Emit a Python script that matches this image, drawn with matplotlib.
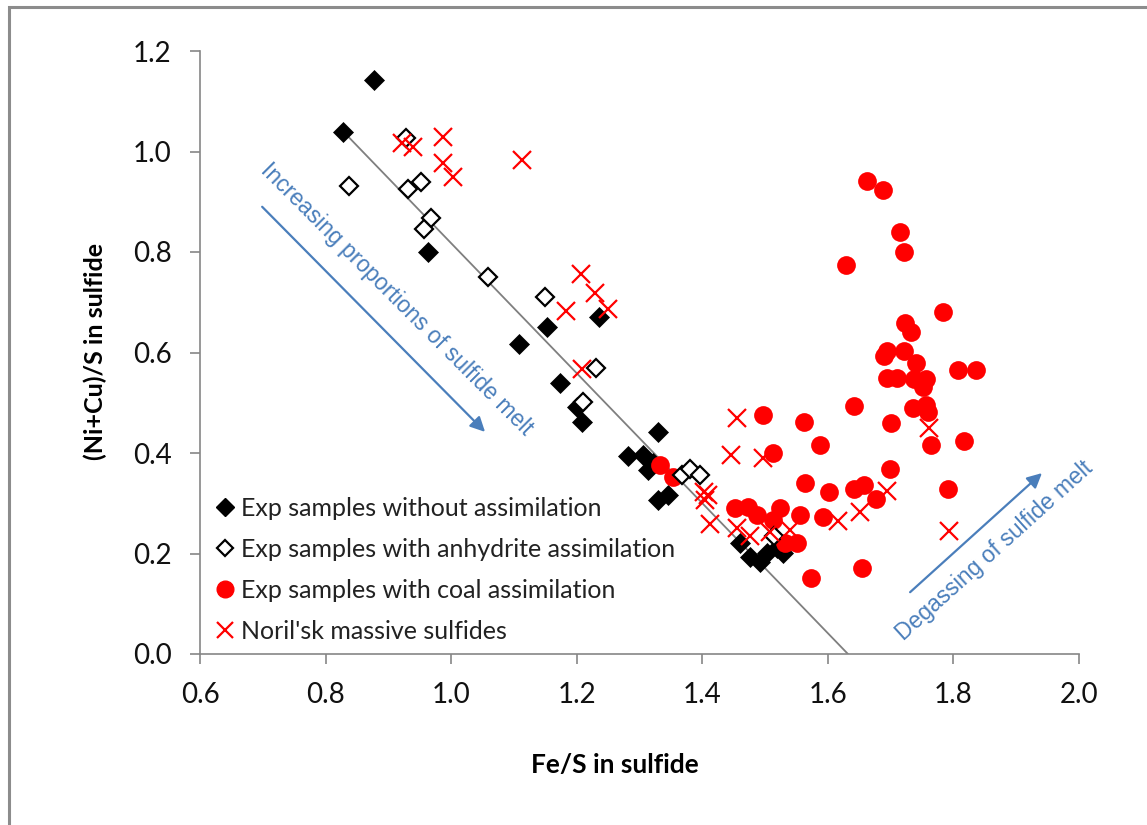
import matplotlib
matplotlib.use("Agg")
import matplotlib.pyplot as plt
from matplotlib.lines import Line2D
from matplotlib.patches import Rectangle

# Experimental samples without assimilation (Fe/S, (Ni+Cu)/S)
noassim_fe = [0.828, 0.877, 0.963, 1.108, 1.153, 1.235, 1.173, 1.200, 1.208, 1.329,
              1.281, 1.305, 1.321, 1.313, 1.329, 1.345,
              1.460, 1.476, 1.492, 1.503, 1.519, 1.529]
noassim_ni = [1.039, 1.142, 0.800, 0.617, 0.651, 0.671, 0.539, 0.492, 0.462, 0.442,
              0.394, 0.396, 0.380, 0.366, 0.306, 0.316,
              0.221, 0.193, 0.183, 0.201, 0.211, 0.201]

# Experimental samples with anhydrite assimilation
anhyd_fe = [0.837, 0.928, 0.931, 0.952, 0.968, 0.957, 1.059, 1.149, 1.231, 1.210,
            1.367, 1.380, 1.396, 1.515]
anhyd_ni = [0.931, 1.027, 0.925, 0.939, 0.868, 0.846, 0.750, 0.710, 0.569, 0.501,
            0.356, 0.368, 0.356, 0.235]

# Experimental samples with coal assimilation
coal_fe = [1.662, 1.688, 1.715, 1.721, 1.629, 1.783, 1.723, 1.732, 1.694, 1.689,
           1.721, 1.740, 1.694, 1.710, 1.737, 1.756, 1.751, 1.807, 1.836, 1.641,
           1.735, 1.757, 1.759, 1.700, 1.497, 1.562, 1.764, 1.817, 1.587, 1.512,
           1.699, 1.563, 1.602, 1.641, 1.657, 1.676, 1.791, 1.332, 1.353, 1.452,
           1.473, 1.487, 1.524, 1.513, 1.555, 1.592, 1.532, 1.551, 1.573, 1.654]
coal_ni = [0.941, 0.923, 0.840, 0.800, 0.774, 0.681, 0.659, 0.641, 0.603, 0.593,
           0.603, 0.579, 0.549, 0.549, 0.547, 0.547, 0.531, 0.565, 0.565, 0.494,
           0.490, 0.496, 0.482, 0.460, 0.476, 0.462, 0.416, 0.424, 0.416, 0.400,
           0.368, 0.340, 0.322, 0.328, 0.336, 0.308, 0.328, 0.376, 0.352, 0.291,
           0.293, 0.277, 0.291, 0.267, 0.277, 0.273, 0.221, 0.221, 0.151, 0.171]

# Noril'sk massive sulfides
norilsk_fe = [0.922, 0.939, 0.987, 0.987, 1.003, 1.113, 1.207, 1.229, 1.250, 1.183,
              1.208, 1.455, 1.446, 1.497, 1.403, 1.409, 1.404, 1.412, 1.455, 1.476,
              1.508, 1.540, 1.616, 1.651, 1.694, 1.793, 1.761]
norilsk_ni = [1.017, 1.009, 1.029, 0.977, 0.949, 0.983, 0.756, 0.718, 0.687, 0.683,
              0.567, 0.470, 0.396, 0.390, 0.322, 0.316, 0.306, 0.258, 0.251, 0.235,
              0.243, 0.247, 0.265, 0.283, 0.324, 0.245, 0.450]

# Trend line through the experiments without assimilation
trend_fe = [0.828, 1.632]
trend_ni = [1.040, 0.0]

RED = "#FF0000"
BLUE = "#4A7EBB"
GREY = "#868686"

plt.rcParams["font.family"] = ["Lato", "DejaVu Sans"]

fig = plt.figure(figsize=(11.47, 8.25), dpi=100)
W, H = 1147, 825

# outer frame of the chart area
fig.patches.append(Rectangle((9 / W, -0.1), 1.2, 1 - 7 / H + 0.1,
                             transform=fig.transFigure, fill=False,
                             edgecolor="#8C8C8C", linewidth=2.2))

ax = fig.add_axes([200 / W, 1 - 654 / H, 879 / W, 603 / H])
ax.set_xlim(0.6, 2.0)
ax.set_ylim(0.0, 1.2)
ax.set_xticks([0.6, 0.8, 1.0, 1.2, 1.4, 1.6, 1.8, 2.0])
ax.set_yticks([0.0, 0.2, 0.4, 0.6, 0.8, 1.0, 1.2])
ax.xaxis.set_major_formatter(matplotlib.ticker.FormatStrFormatter("%.1f"))
ax.yaxis.set_major_formatter(matplotlib.ticker.FormatStrFormatter("%.1f"))
for side in ("top", "right"):
    ax.spines[side].set_visible(False)
for side in ("left", "bottom"):
    ax.spines[side].set_color(GREY)
    ax.spines[side].set_linewidth(1.2)
ax.tick_params(axis="both", direction="out", length=7.5, width=1.2,
               color=GREY, labelsize=20, pad=13, labelcolor="#111111")

ax.plot(trend_fe, trend_ni, color="#7F7F7F", linewidth=1.3, zorder=1)

ax.plot(noassim_fe, noassim_ni, linestyle="none", marker="D", markersize=9.8,
        markerfacecolor="black", markeredgecolor="black", markeredgewidth=0.5,
        zorder=2, label="Exp samples without assimilation")
ax.plot(coal_fe, coal_ni, linestyle="none", marker="o", markersize=13.5,
        markerfacecolor=RED, markeredgecolor=RED, markeredgewidth=0,
        zorder=3, label="Exp samples with coal assimilation")
ax.plot(anhyd_fe, anhyd_ni, linestyle="none", marker="D", markersize=9.0,
        markerfacecolor="white", markeredgecolor="black", markeredgewidth=1.6,
        zorder=4, label="Exp samples with anhydrite assimilation")
ax.plot(norilsk_fe, norilsk_ni, linestyle="none", marker="x", markersize=13,
        markeredgecolor=RED, markeredgewidth=1.6, zorder=5,
        label="Noril'sk massive sulfides")

ax.set_xlabel("Fe/S in sulfide", fontsize=19, fontweight="bold", va="center")
ax.xaxis.set_label_coords(0.472, -0.184)
ax.set_ylabel("(Ni+Cu)/S in sulfide", fontsize=18, fontweight="bold", va="center")
ax.yaxis.set_label_coords(-0.119, 0.501)

# legend
handles = [
    Line2D([], [], linestyle="none", marker="D", markersize=8.7,
           markerfacecolor="black", markeredgecolor="black"),
    Line2D([], [], linestyle="none", marker="D", markersize=8.0,
           markerfacecolor="white", markeredgecolor="black", markeredgewidth=1.6),
    Line2D([], [], linestyle="none", marker="o", markersize=12,
           markerfacecolor=RED, markeredgecolor=RED),
    Line2D([], [], linestyle="none", marker="x", markersize=11,
           markeredgecolor=RED, markeredgewidth=1.6),
]
labels = ["Exp samples without assimilation",
          "Exp samples with anhydrite assimilation",
          "Exp samples with coal assimilation",
          "Noril'sk massive sulfides"]
leg = ax.legend(handles, labels, loc="upper left",
                bbox_to_anchor=(215 / W, 1 - 497 / H), bbox_transform=fig.transFigure,
                frameon=False, fontsize=18, handlelength=0.8, handletextpad=0.25,
                labelspacing=0.72, borderpad=0, borderaxespad=0)
for t in leg.get_texts():
    t.set_color("#222222")

# direction arrows with captions
ax.annotate("", xy=(1.054, 0.442), xytext=(0.699, 0.890),
            arrowprops=dict(arrowstyle="-|>", color=BLUE, lw=1.6,
                            mutation_scale=22, shrinkA=0, shrinkB=0))
ax.text(0.913, 0.706, "Increasing proportions of sulfide melt", rotation=-45,
        rotation_mode="anchor", ha="center", va="center", color=BLUE,
        fontsize=16.5, family=["Liberation Sans", "DejaVu Sans"])

ax.annotate("", xy=(1.941, 0.360), xytext=(1.731, 0.123),
            arrowprops=dict(arrowstyle="-|>", color=BLUE, lw=1.6,
                            mutation_scale=22, shrinkA=0, shrinkB=0),
            annotation_clip=False)
ax.text(1.866, 0.205, "Degassing of sulfide melt", rotation=42,
        rotation_mode="anchor", ha="center", va="center", color=BLUE,
        fontsize=16.5, family=["Liberation Sans", "DejaVu Sans"], clip_on=False)

fig.savefig("out.png", dpi=100)
